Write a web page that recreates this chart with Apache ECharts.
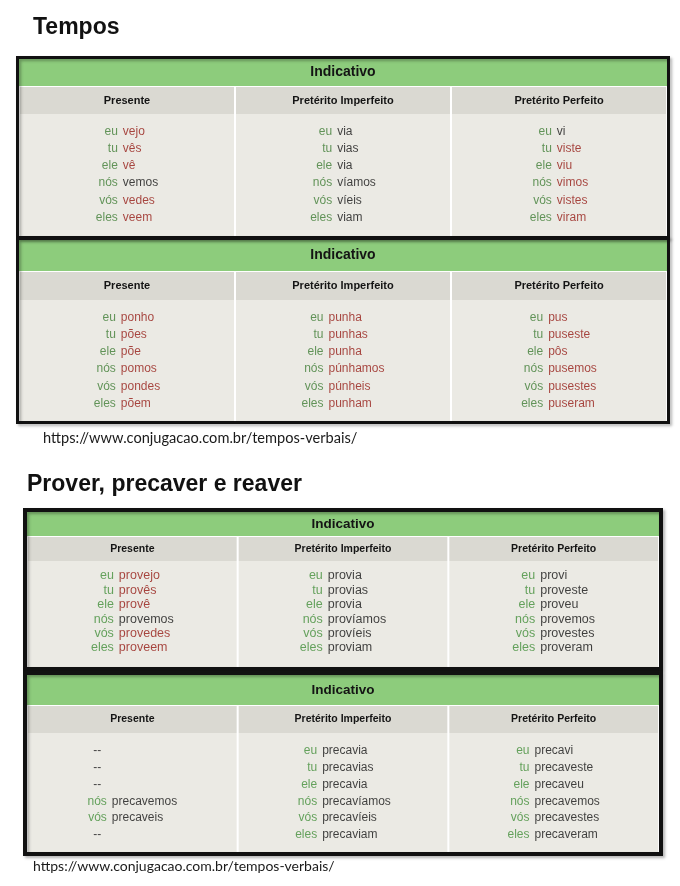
<!DOCTYPE html>
<html>
<head>
<meta charset="utf-8">
<script src="https://cdn.jsdelivr.net/npm/echarts@6/dist/echarts.min.js"></script>
<style>
html, body { margin: 0; padding: 0; background: #fff; }
#main { width: 680px; height: 886px; }
</style>
</head>
<body>
<div id="main"></div>
<script>
// textos
var titles = ['Tempos', 'Prover, precaver e reaver']
var source = 'https://www.conjugacao.com.br/tempos-verbais/'
var moodName = 'Indicativo'
var tenses = ['Presente', 'Pretérito Imperfeito', 'Pretérito Perfeito']
var pronouns = ['eu', 'tu', 'ele', 'nós', 'vós', 'eles']

// ver
var verForms = [
  ['vejo', 'vês', 'vê', 'vemos', 'vedes', 'veem'],
  ['via', 'vias', 'via', 'víamos', 'víeis', 'viam'],
  ['vi', 'viste', 'viu', 'vimos', 'vistes', 'viram']
]
var verIrreg = [
  [1, 1, 1, 0, 1, 1],
  [0, 0, 0, 0, 0, 0],
  [0, 1, 1, 1, 1, 1]
]
// pôr
var porForms = [
  ['ponho', 'pões', 'põe', 'pomos', 'pondes', 'põem'],
  ['punha', 'punhas', 'punha', 'púnhamos', 'púnheis', 'punham'],
  ['pus', 'puseste', 'pôs', 'pusemos', 'pusestes', 'puseram']
]
var porIrreg = [
  [1, 1, 1, 1, 1, 1],
  [1, 1, 1, 1, 1, 1],
  [1, 1, 1, 1, 1, 1]
]
// prover
var proverForms = [
  ['provejo', 'provês', 'provê', 'provemos', 'provedes', 'proveem'],
  ['provia', 'provias', 'provia', 'províamos', 'províeis', 'proviam'],
  ['provi', 'proveste', 'proveu', 'provemos', 'provestes', 'proveram']
]
var proverIrreg = [
  [1, 1, 1, 0, 1, 1],
  [0, 0, 0, 0, 0, 0],
  [0, 0, 0, 0, 0, 0]
]
// precaver
var precaverForms = [
  ['--', '--', '--', 'precavemos', 'precaveis', '--'],
  ['precavia', 'precavias', 'precavia', 'precavíamos', 'precavíeis', 'precaviam'],
  ['precavi', 'precaveste', 'precaveu', 'precavemos', 'precavestes', 'precaveram']
]
var precaverIrreg = [
  [0, 0, 0, 0, 0, 0],
  [0, 0, 0, 0, 0, 0],
  [0, 0, 0, 0, 0, 0]
]

var FONT = '"Liberation Sans", Arial, sans-serif'
var GREEN = '#8dcc7c'
var GRAY = '#dad9d2'
var BODY = '#ebeae4'
var RED = '#951a14'
var DARK = '#141414'
var GAP = 5

// posicao de cada quadro
var panels = [
  { forms: verForms, irreg: verIrreg, x: 19, w: 648, top: 59, gH: 27, sH: 27, bH: 122, row0: 17.5, rowH: 17.2, bw: 3, head: 14, sub: 11, body: 12, pron: '#3f7d35' },
  { forms: porForms, irreg: porIrreg, x: 19, w: 648, top: 240, gH: 31, sH: 28, bH: 121, row0: 17.5, rowH: 17.2, bw: 3, head: 14, sub: 11, body: 12, pron: '#3f7d35' },
  { forms: proverForms, irreg: proverIrreg, x: 27, w: 632, top: 512, gH: 24, sH: 24, bH: 106, row0: 15, rowH: 14.4, bw: 4, head: 13.5, sub: 10.5, body: 12.5, pron: '#428f3a' },
  { forms: precaverForms, irreg: precaverIrreg, x: 27, w: 632, top: 675, gH: 30, sH: 27, bH: 119, row0: 17.5, rowH: 16.9, bw: 4, head: 13.5, sub: 10.5, body: 12, pron: '#428f3a' }
]

var ctx = document.createElement('canvas').getContext('2d')
function textW(s, size) {
  ctx.font = size + 'px "Liberation Sans"'
  return ctx.measureText(s).width
}

var grids = []
var xAxes = []
var yAxes = []
var series = []
var boxes = []

panels.forEach(function(p) {
  var g = grids.length
  var y0 = yAxes.length
  var grayTop = p.top + p.gH + 1
  var bodyTop = grayTop + p.sH
  grids.push({ left: p.x, top: p.top, width: p.w, height: p.gH })
  grids.push({ left: p.x, top: grayTop, width: p.w, height: p.sH })
  grids.push({ left: p.x, top: bodyTop, width: p.w, height: p.bH })
  xAxes.push({ gridIndex: g, type: 'category', data: [moodName], show: false })
  xAxes.push({ gridIndex: g + 1, type: 'category', data: tenses, show: false })
  xAxes.push({ gridIndex: g + 2, type: 'category', data: tenses, show: false })
  yAxes.push({ gridIndex: g, type: 'value', min: 0, max: 1, show: false })
  yAxes.push({ gridIndex: g + 1, type: 'value', min: 0, max: 1, show: false })
  yAxes.push({ gridIndex: g + 2, type: 'value', min: 0, max: 1, show: false })
  // linhas: eu..eles
  yAxes.push({ gridIndex: g + 2, type: 'value', inverse: true, min: -p.row0 / p.rowH, max: (p.bH - p.row0) / p.rowH, show: false })

  // faixa verde
  series.push({
    type: 'bar', xAxisIndex: g, yAxisIndex: y0, data: [1], barWidth: p.w, silent: true,
    itemStyle: { color: GREEN },
    label: { show: true, position: 'inside', formatter: '{b}', fontFamily: FONT, fontWeight: 'bold', fontSize: p.head, color: '#141414' }
  })
  // cabecalho cinza
  series.push({
    type: 'bar', xAxisIndex: g + 1, yAxisIndex: y0 + 1, data: [1, 1, 1], barWidth: p.w / 3 - 2, silent: true,
    itemStyle: { color: GRAY },
    label: { show: true, position: 'inside', formatter: '{b}', fontFamily: FONT, fontWeight: 'bold', fontSize: p.sub, color: '#141414' }
  })
  // fundo das celulas
  series.push({
    type: 'bar', xAxisIndex: g + 2, yAxisIndex: y0 + 2, data: [1, 1, 1], barWidth: p.w / 3 - 2, silent: true,
    itemStyle: { color: BODY }
  })

  var pronData = []
  var verbData = []
  p.forms.forEach(function(col, c) {
    var wP = 0
    var wV = 0
    col.forEach(function(v, r) {
      wP = Math.max(wP, textW(v === '--' ? v : pronouns[r], p.body))
      if (v !== '--') wV = Math.max(wV, textW(v, p.body))
    })
    var pr = -(wP + GAP + wV) / 2 + wP
    col.forEach(function(v, r) {
      if (v === '--') {
        pronData.push({ name: v, value: [c, r], label: { align: 'center', offset: [pr - wP / 2, 0], color: DARK }})
      } else {
        pronData.push({ name: pronouns[r], value: [c, r], label: { offset: [pr, 0] }})
        verbData.push({ name: v, value: [c, r], label: { offset: [pr + GAP, 0], color: p.irreg[c][r] ? RED : DARK }})
      }
    })
  })
  series.push({
    type: 'scatter', xAxisIndex: g + 2, yAxisIndex: y0 + 3, data: pronData, symbolSize: 0.1, silent: true, z: 5,
    itemStyle: { color: 'transparent' },
    label: { show: true, position: 'inside', align: 'right', formatter: '{b}', fontFamily: FONT, fontSize: p.body, color: p.pron }
  })
  series.push({
    type: 'scatter', xAxisIndex: g + 2, yAxisIndex: y0 + 3, data: verbData, symbolSize: 0.1, silent: true, z: 5,
    itemStyle: { color: 'transparent' },
    label: { show: true, position: 'inside', align: 'left', formatter: '{b}', fontFamily: FONT, fontSize: p.body, color: DARK }
  })

  boxes.push({
    type: 'rect', z: 10, silent: true,
    shape: { x: p.x - p.bw / 2, y: p.top - p.bw / 2, width: p.w + p.bw, height: p.gH + 1 + p.sH + p.bH + p.bw },
    style: { fill: 'none', stroke: '#111', lineWidth: p.bw, shadowBlur: 3, shadowOffsetX: 2, shadowOffsetY: 2, shadowColor: 'rgba(0,0,0,0.3)' }
  })
})

var chart = echarts.init(document.getElementById('main'))
var option = {
  animation: false,
  backgroundColor: '#fff',
  title: [
    { text: titles[0], left: 33, top: 16, padding: 0, textStyle: { fontFamily: FONT, fontSize: 23, fontWeight: 'bold', color: '#111' }},
    { text: titles[1], left: 27, top: 473, padding: 0, textStyle: { fontFamily: FONT, fontSize: 23, fontWeight: 'bold', color: '#111' }},
    { text: source, left: 43, top: 431, padding: 0, textStyle: { fontFamily: 'Lato', fontSize: 14.6, fontWeight: 'normal', color: '#1a1a1a' }},
    { text: source, left: 33, top: 859, padding: 0, textStyle: { fontFamily: 'Lato', fontSize: 14, fontWeight: 'normal', color: '#1a1a1a' }}
  ],
  grid: grids,
  xAxis: xAxes,
  yAxis: yAxes,
  series: series,
  graphic: boxes
}
chart.setOption(option)
</script>
</body>
</html>
